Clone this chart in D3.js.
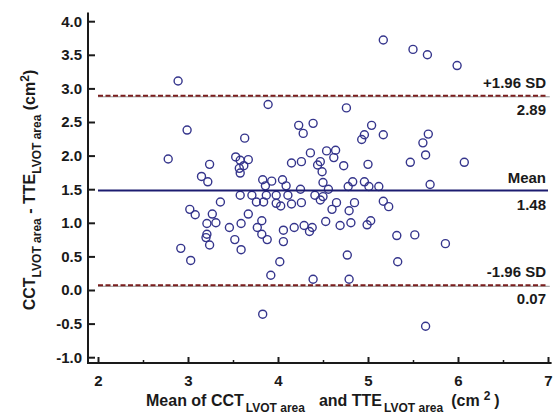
<!DOCTYPE html>
<html>
<head>
<meta charset="utf-8">
<script src="https://cdn.jsdelivr.net/npm/d3@7"></script>
<style>
  body { margin: 0; background: #fff; }
  svg { display: block; font-family: "Liberation Sans", Arial, sans-serif; }
</style>
</head>
<body>
<svg width="557" height="416"></svg>
<script>
// mean of the two measurements (cm2)
var meanVals = [
  2.89, 3.89, 5.17, 5.50, 5.66, 5.99, 4.76, 4.23, 4.39, 4.28,
  5.04, 2.99, 4.96, 4.93, 5.17, 5.67, 5.61, 5.64, 5.47, 6.07,
  5.00, 4.96, 5.01, 5.12, 5.69, 5.17, 5.23, 4.99, 5.03, 5.32,
  5.52, 5.86, 5.33, 5.64, 3.63, 3.53, 3.58, 3.67, 3.62, 3.57,
  3.58, 3.24, 3.15, 3.22, 2.78, 4.15, 4.26, 4.36, 4.54, 4.64,
  4.62, 4.44, 4.47, 4.49, 4.50, 4.73, 4.83, 4.78, 3.83, 3.93,
  4.05, 4.09, 4.25, 4.56, 3.86, 3.58, 3.71, 3.87, 3.98, 4.11,
  4.41, 4.50, 4.47, 3.36, 3.76, 3.84, 3.98, 4.03, 4.15, 4.26,
  4.65, 4.85, 4.60, 4.79, 3.02, 3.08, 3.27, 3.67, 3.21, 3.31,
  3.21, 3.20, 3.24, 2.92, 3.03, 3.46, 3.59, 3.52, 3.59, 3.82,
  3.77, 3.82, 3.88, 4.06, 4.06, 4.02, 3.92, 4.18, 4.29, 4.38,
  4.35, 4.53, 4.69, 4.81, 4.77, 4.39, 4.79, 3.83
]
// difference CCT - TTE (cm2)
var diffVals = [
  3.11, 2.76, 3.72, 3.58, 3.50, 3.34, 2.71, 2.45, 2.48, 2.33,
  2.45, 2.38, 2.31, 2.24, 2.31, 2.32, 2.19, 2.01, 1.90, 1.90,
  1.87, 1.61, 1.54, 1.54, 1.57, 1.32, 1.24, 0.97, 1.03, 0.81,
  0.82, 0.69, 0.42, -0.54, 2.26, 1.98, 1.93, 1.94, 1.85, 1.81,
  1.74, 1.87, 1.69, 1.61, 1.95, 1.89, 1.91, 2.04, 2.07, 2.08,
  1.97, 1.86, 1.91, 1.76, 1.60, 1.85, 1.61, 1.54, 1.64, 1.62,
  1.64, 1.55, 1.50, 1.50, 1.55, 1.41, 1.41, 1.41, 1.41, 1.41,
  1.41, 1.39, 1.34, 1.31, 1.31, 1.31, 1.29, 1.25, 1.28, 1.30,
  1.30, 1.30, 1.20, 1.18, 1.20, 1.12, 1.13, 1.13, 0.99, 1.00,
  0.83, 0.78, 0.67, 0.62, 0.44, 0.93, 0.99, 0.75, 0.60, 1.03,
  0.93, 0.83, 0.75, 0.89, 0.72, 0.42, 0.22, 0.93, 0.96, 0.93,
  0.87, 1.02, 0.96, 1.00, 0.52, 0.16, 0.16, -0.36
]
var refNames = ['+1.96 SD', 'Mean', '-1.96 SD']
var refVals = [2.89, 1.48, 0.07]
var xTicks = [2, 3, 4, 5, 6, 7]
var xMinor = [2.5, 3.5, 4.5, 5.5, 6.5]
var yTicks = [-1.0, -0.5, 0.0, 0.5, 1.0, 1.5, 2.0, 2.5, 3.0, 3.5, 4.0]

var svg = d3.select('svg')
var xScale = d3.scaleLinear().domain([2, 7]).range([98, 548])
var yScale = d3.scaleLinear().domain([-1, 4]).range([357.2, 21.2])

var axisX = 88
var axisY = 363
var ink = '#1a1a1a'

// y axis
var yAxis = d3.axisLeft(yScale)
    .tickValues(yTicks)
    .tickSize(-7)
    .tickPadding(6)
var gy = svg.append('g')
    .attr('transform', 'translate(' + axisX + ',0)')
    .call(yAxis)
gy.select('.domain').remove()
gy.selectAll('line').attr('stroke', ink).attr('stroke-width', 2)
gy.selectAll('text')
    .attr('fill', ink)
    .style('font-size', '15px')
    .style('font-weight', 'bold')
    .text(function(d) { return d < 0 ? '-' + d3.format('.1f')(-d) : d3.format('.1f')(d) })

// x axis
var xAxis = d3.axisBottom(xScale)
    .tickValues(xTicks)
    .tickFormat(d3.format('d'))
    .tickSize(-6)
    .tickPadding(12)
var gx = svg.append('g')
    .attr('transform', 'translate(0,' + axisY + ')')
    .call(xAxis)
gx.select('.domain').remove()
gx.selectAll('line').attr('stroke', ink).attr('stroke-width', 2)
gx.selectAll('text')
    .attr('fill', ink)
    .style('font-size', '15px')
    .style('font-weight', 'bold')

var xMinorAxis = d3.axisBottom(xScale).tickValues(xMinor).tickSize(-3).tickFormat('')
var gxm = svg.append('g')
    .attr('transform', 'translate(0,' + axisY + ')')
    .call(xMinorAxis)
gxm.select('.domain').remove()
gxm.selectAll('line').attr('stroke', ink).attr('stroke-width', 1.5)

// axis lines
svg.append('line')
    .attr('x1', axisX).attr('x2', axisX)
    .attr('y1', yScale(4.13)).attr('y2', axisY + 1)
    .attr('stroke', ink).attr('stroke-width', 2)
svg.append('line')
    .attr('x1', axisX - 1).attr('x2', xScale(7.04))
    .attr('y1', axisY).attr('y2', axisY)
    .attr('stroke', ink).attr('stroke-width', 2)

// points
svg.append('g').selectAll('circle')
    .data(meanVals.map(function(m, i) { return [m, diffVals[i]] }))
    .enter()
    .append('circle')
    .attr('cx', function(d) { return xScale(d[0]) })
    .attr('cy', function(d) { return yScale(d[1]) })
    .attr('r', 4)
    .attr('fill', 'none')
    .attr('stroke', '#35358c')
    .attr('stroke-width', 1.4)

// mean and limits of agreement
refVals.forEach(function(v, i) {
    var isMean = refNames[i] === 'Mean'
    if (!isMean) {
        svg.append('line')
            .attr('x1', xScale(2)).attr('x2', xScale(7.02))
            .attr('y1', yScale(v) + 1).attr('y2', yScale(v) + 1)
            .attr('stroke', '#777').attr('stroke-width', 0.8)
    }
    svg.append('line')
        .attr('x1', xScale(2)).attr('x2', xScale(7))
        .attr('y1', yScale(v)).attr('y2', yScale(v))
        .attr('stroke', isMean ? '#1c1c70' : '#7a1e1e')
        .attr('stroke-width', 2)
        .attr('stroke-dasharray', isMean ? null : '5,2.5')
    svg.append('text')
        .attr('x', 546).attr('y', yScale(v) - 8)
        .attr('text-anchor', 'end')
        .attr('fill', ink)
        .style('font-size', '15px')
        .style('font-weight', 'bold')
        .text(refNames[i])
    svg.append('text')
        .attr('x', 546).attr('y', yScale(v) + 19)
        .attr('text-anchor', 'end')
        .attr('fill', ink)
        .style('font-size', '15px')
        .style('font-weight', 'bold')
        .text(d3.format('.2f')(v))
})

// x title
var xt = svg.append('text')
    .attr('x', 146).attr('y', 406)
    .attr('fill', ink)
    .style('font-size', '16px')
    .style('font-weight', 'bold')
xt.append('tspan').text('Mean of CCT')
xt.append('tspan').attr('dx', 2).attr('dy', 6).style('font-size', '12px').text('LVOT area')
xt.append('tspan').attr('dx', 14).attr('dy', -6).text('and TTE')
xt.append('tspan').attr('dx', 2).attr('dy', 6).style('font-size', '12px').text('LVOT area')
xt.append('tspan').attr('dx', 8).attr('dy', -6).text('(cm')
xt.append('tspan').attr('dx', 4).attr('dy', -6).style('font-size', '12px').text('2')
xt.append('tspan').attr('dx', 4).attr('dy', 6).text(')')

// y title
var yt = svg.append('text')
    .attr('transform', 'translate(35,190) rotate(-90)')
    .attr('text-anchor', 'middle')
    .attr('fill', ink)
    .style('font-size', '16px')
    .style('font-weight', 'bold')
yt.append('tspan').text('CCT')
yt.append('tspan').attr('dy', 6).style('font-size', '12px').text('LVOT area')
yt.append('tspan').attr('dy', -6).text(' - TTE')
yt.append('tspan').attr('dy', 6).style('font-size', '12px').text('LVOT area')
yt.append('tspan').attr('dy', -6).text(' (cm')
yt.append('tspan').attr('dy', -6).style('font-size', '12px').text('2')
yt.append('tspan').attr('dy', 6).text(')')
</script>
</body>
</html>
